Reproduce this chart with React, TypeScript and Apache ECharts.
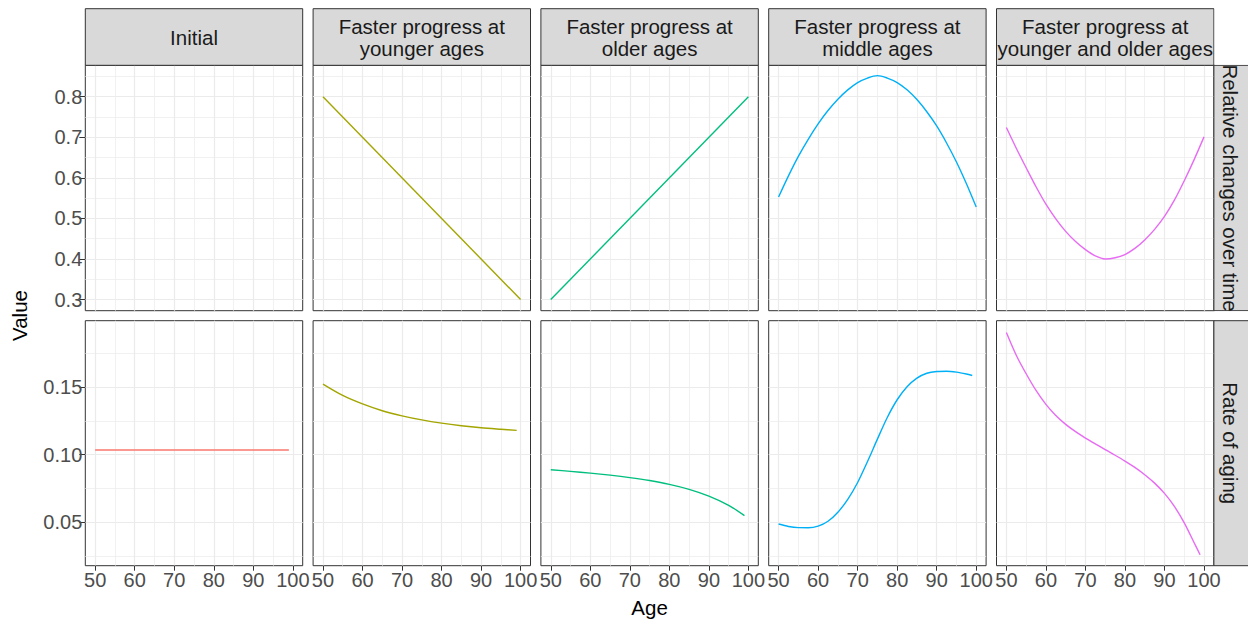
import React, { useEffect, useRef } from "react";
import * as echarts from "echarts";

// ---------- data ----------
const facetLabels = [
  "Initial",
  "Faster progress at\nyounger ages",
  "Faster progress at\nolder ages",
  "Faster progress at\nmiddle ages",
  "Faster progress at\nyounger and older ages",
];
const rowLabels = ["Relative changes over time", "Rate of aging"];
const facetColors = ["#F8766D", "#A3A500", "#00BF7D", "#00B0F6", "#E76BF3"];

const agesLinear = [50, 100];
const agesTopDense = [50, 52.5, 55, 57.5, 60, 62.5, 65, 67.5, 70, 72.5, 75, 77.5, 80, 82.5, 85, 87.5, 90, 92.5, 95, 97.5, 100];
const agesFlat = [50, 99];
const agesBottom = [50, 55, 60, 65, 70, 75, 80, 85, 90, 95, 99];
const agesBottomDense = [50, 52.5, 55, 57.5, 60, 62.5, 65, 67.5, 70, 72.5, 75, 77.5, 80, 82.5, 85, 87.5, 90, 92.5, 95, 97.5, 99];

// Relative changes over time
const relInitial: number[] = [];
const relYounger = [0.8, 0.3];
const relOlder = [0.3, 0.8];
const relMiddle = [0.553, 0.605, 0.653, 0.695, 0.733, 0.766, 0.794, 0.817, 0.835, 0.846, 0.852, 0.846, 0.835, 0.817, 0.793, 0.763, 0.728, 0.686, 0.639, 0.586, 0.528];
const relYoungOld = [0.724, 0.673, 0.625, 0.578, 0.535, 0.499, 0.468, 0.443, 0.423, 0.4075, 0.4, 0.403, 0.411, 0.426, 0.447, 0.473, 0.505, 0.545, 0.593, 0.645, 0.701];

// Rate of aging
const rateInitial = [0.1035, 0.1035];
const rateYounger = [0.1522, 0.1438, 0.1375, 0.1325, 0.1287, 0.1257, 0.1233, 0.1214, 0.1199, 0.1188, 0.118];
const rateOlder = [0.0889, 0.0877, 0.0864, 0.0849, 0.0831, 0.0809, 0.0781, 0.0744, 0.0694, 0.0626, 0.055];
const rateMiddle = [0.0488, 0.047, 0.0461, 0.046, 0.0472, 0.0508, 0.0575, 0.067, 0.0795, 0.095, 0.1115, 0.1275, 0.1406, 0.1502, 0.1566, 0.1602, 0.1615, 0.1617, 0.161, 0.1596, 0.1585];
const rateYoungOld = [0.1903, 0.1735, 0.1598, 0.1475, 0.1372, 0.129, 0.1224, 0.117, 0.1123, 0.108, 0.1037, 0.0996, 0.0953, 0.0906, 0.0852, 0.079, 0.0714, 0.0618, 0.0497, 0.035, 0.0261];

const topAges = [agesTopDense, agesLinear, agesLinear, agesTopDense, agesTopDense];
const topValues = [relInitial, relYounger, relOlder, relMiddle, relYoungOld];
const bottomAges = [agesFlat, agesBottom, agesBottom, agesBottomDense, agesBottomDense];
const bottomValues = [rateInitial, rateYounger, rateOlder, rateMiddle, rateYoungOld];

const xMajor = [50, 60, 70, 80, 90, 100];
const xMinor = [55, 65, 75, 85, 95];
const yTopMajor = [0.3, 0.4, 0.5, 0.6, 0.7, 0.8];
const yTopMinor = [0.35, 0.45, 0.55, 0.65, 0.75, 0.85];
const yBotMajor = [0.05, 0.1, 0.15];
const yBotMinor = [0.025, 0.075, 0.125, 0.175];

const xRange = [47.5, 102.5];
const yTopRange = [0.2725, 0.8775];
const yBotRange = [0.018, 0.199];

// ---------- layout ----------
const FONT = "'Liberation Sans', Arial, Helvetica, sans-serif";
const PANEL_LEFT0 = 85.3;
const PANEL_STEP = 227.8;
const PANEL_W = 217.4;
const ROW_TOP = [65.3, 320.7];
const ROW_H = [245.4, 245];
const STRIP_TOP = 8.7;
const RIGHT_STRIP_X = PANEL_LEFT0 + 4 * PANEL_STEP + PANEL_W;

const App: React.FC = () => {
  const ref = useRef<HTMLDivElement>(null);

  useEffect(() => {
    if (!ref.current) return;
    const chart = echarts.init(ref.current, undefined, { renderer: "svg" });

    const grids: any[] = [];
    const xAxes: any[] = [];
    const yAxes: any[] = [];
    const series: any[] = [];

    for (let r = 0; r < 2; r++) {
      for (let c = 0; c < 5; c++) {
        const g = r * 5 + c;
        grids.push({
          left: PANEL_LEFT0 + c * PANEL_STEP,
          top: ROW_TOP[r],
          width: PANEL_W,
          height: ROW_H[r],
          show: true,
          borderColor: "#333333",
          borderWidth: 1,
          backgroundColor: "#ffffff",
          containLabel: false,
        });
        const yr = r === 0 ? yTopRange : yBotRange;
        const yMaj = r === 0 ? yTopMajor : yBotMajor;
        const yMin = r === 0 ? yTopMinor : yBotMinor;
        // major x
        xAxes.push({
          type: "value",
          gridIndex: g,
          min: xRange[0],
          max: xRange[1],
          position: "bottom",
          axisLine: { show: false },
          axisTick: {
            show: r === 1,
            customValues: xMajor,
            length: 5,
            lineStyle: { color: "#333333", width: 1 },
          },
          axisLabel: {
            show: r === 1,
            customValues: xMajor,
            color: "#4D4D4D",
            fontSize: 20,
            fontFamily: FONT,
            margin: 4,
          },
          splitLine: { show: true, lineStyle: { color: "#EBEBEB", width: 1.2 } },
        });
        // minor x
        xAxes.push({
          type: "value",
          gridIndex: g,
          min: xRange[0],
          max: xRange[1],
          position: "top",
          axisLine: { show: false },
          axisTick: { show: false, customValues: xMinor },
          axisLabel: { show: false, customValues: xMinor },
          splitLine: { show: true, lineStyle: { color: "#EEEEEE", width: 0.8 } },
        });
        // major y
        yAxes.push({
          type: "value",
          gridIndex: g,
          min: yr[0],
          max: yr[1],
          position: "left",
          axisLine: { show: false },
          axisTick: {
            show: c === 0,
            customValues: yMaj,
            length: 6,
            lineStyle: { color: "#333333", width: 1 },
          },
          axisLabel: {
            show: c === 0,
            customValues: yMaj,
            color: "#4D4D4D",
            fontSize: 20,
            fontFamily: FONT,
            margin: 3,
            formatter: (v: number) => v.toFixed(r === 0 ? 1 : 2),
          },
          splitLine: { show: true, lineStyle: { color: "#EBEBEB", width: 1.2 } },
        });
        // minor y
        yAxes.push({
          type: "value",
          gridIndex: g,
          min: yr[0],
          max: yr[1],
          position: "right",
          axisLine: { show: false },
          axisTick: { show: false, customValues: yMin },
          axisLabel: { show: false, customValues: yMin },
          splitLine: { show: true, lineStyle: { color: "#EEEEEE", width: 0.8 } },
        });

        const ages = r === 0 ? topAges[c] : bottomAges[c];
        const vals = r === 0 ? topValues[c] : bottomValues[c];
        if (vals.length > 0) {
          series.push({
            type: "line",
            xAxisIndex: 2 * g,
            yAxisIndex: 2 * g,
            data: vals.map((v, i) => [ages[i], v]),
            showSymbol: false,
            symbol: "none",
            smooth: vals.length > 2 ? 0.3 : false,
            lineStyle: { color: facetColors[c], width: 1.4 },
            itemStyle: { color: facetColors[c] },
            silent: true,
            z: 3,
          });
        }
      }
    }

    const graphics: any[] = [];
    // top strips
    for (let c = 0; c < 5; c++) {
      const left = PANEL_LEFT0 + c * PANEL_STEP;
      graphics.push({
        type: "rect",
        shape: { x: left, y: STRIP_TOP, width: PANEL_W, height: ROW_TOP[0] - STRIP_TOP },
        style: { fill: "#D9D9D9", stroke: "#333333", lineWidth: 1 },
        z: 10,
      });
      graphics.push({
        type: "text",
        x: left + PANEL_W / 2,
        y: (STRIP_TOP + ROW_TOP[0]) / 2,
        style: {
          text: facetLabels[c],
          font: `20.5px ${FONT}`,
          fill: "#1A1A1A",
          align: "center",
          verticalAlign: "middle",
          lineHeight: 22,
        },
        z: 11,
      });
    }
    // right strips
    for (let r = 0; r < 2; r++) {
      graphics.push({
        type: "rect",
        shape: { x: RIGHT_STRIP_X, y: ROW_TOP[r], width: 60, height: ROW_H[r] },
        style: { fill: "#D9D9D9", stroke: "#333333", lineWidth: 1 },
        z: 10 + r * 3,
      });
      graphics.push({
        type: "text",
        x: RIGHT_STRIP_X + 17,
        y: ROW_TOP[r] + ROW_H[r] / 2,
        rotation: -Math.PI / 2,
        style: {
          text: rowLabels[r],
          font: `20.5px ${FONT}`,
          fill: "#1A1A1A",
          align: "center",
          verticalAlign: "middle",
        },
        z: 11 + r * 3,
      });
    }
    // covers for overflowing strip text
    graphics.push({
      type: "rect",
      shape: { x: RIGHT_STRIP_X + 0.6, y: 0, width: 60, height: ROW_TOP[0] - 0.6 },
      style: { fill: "#ffffff" },
      z: 12,
    });
    graphics.push({
      type: "rect",
      shape: { x: RIGHT_STRIP_X + 0.6, y: ROW_TOP[0] + ROW_H[0] + 0.6, width: 60, height: ROW_TOP[1] - ROW_TOP[0] - ROW_H[0] - 1.2 },
      style: { fill: "#ffffff" },
      z: 12,
    });
    // axis titles
    graphics.push({
      type: "text",
      x: 19,
      y: (ROW_TOP[0] + ROW_TOP[1] + ROW_H[1]) / 2,
      rotation: Math.PI / 2,
      style: {
        text: "Value",
        font: `20.5px ${FONT}`,
        fill: "#000000",
        align: "center",
        verticalAlign: "middle",
      },
      z: 11,
    });
    graphics.push({
      type: "text",
      x: PANEL_LEFT0 + (4 * PANEL_STEP + PANEL_W) / 2,
      y: 607,
      style: {
        text: "Age",
        font: `20.5px ${FONT}`,
        fill: "#000000",
        align: "center",
        verticalAlign: "middle",
      },
      z: 11,
    });

    chart.setOption({
      animation: false,
      backgroundColor: "#ffffff",
      grid: grids,
      xAxis: xAxes,
      yAxis: yAxes,
      series,
      graphic: { elements: graphics },
    });

    return () => chart.dispose();
  }, []);

  return (
    <div
      ref={ref}
      style={{ position: "fixed", left: 0, top: 0, width: 1248, height: 619 }}
    />
  );
};

export default App;
